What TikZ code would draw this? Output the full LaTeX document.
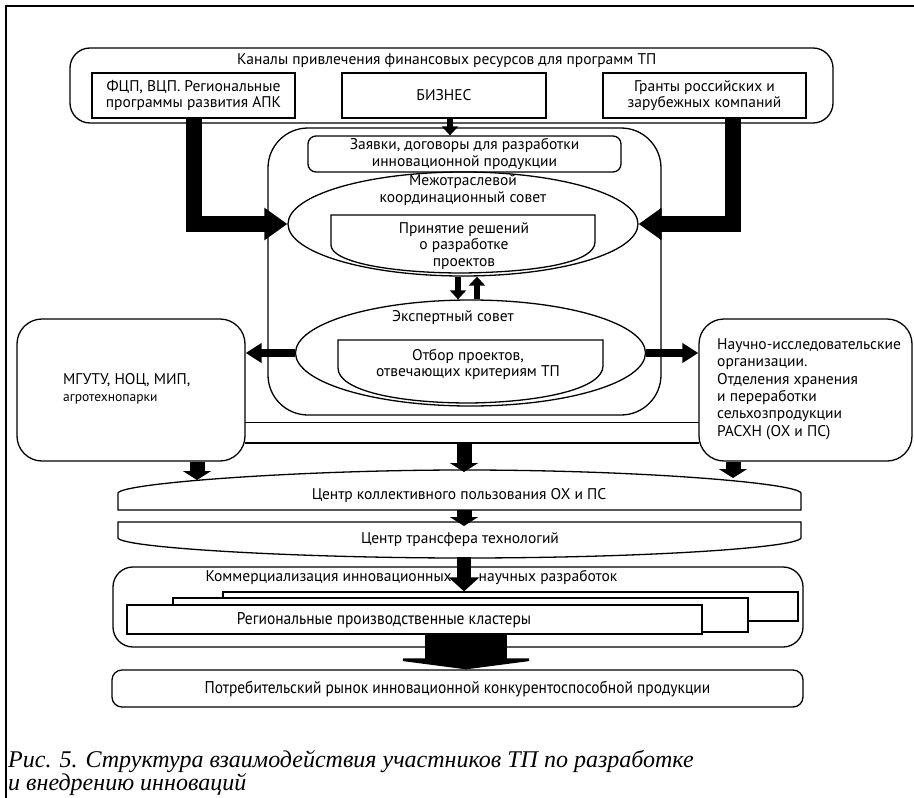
\documentclass[tikz,border=0pt]{standalone}
\usepackage{fontspec}
\setmainfont{PT Sans}
\newfontfamily\narrowfont[FakeStretch=0.91]{PT Sans}
\newfontfamily\capfont{Liberation Serif}
\usetikzlibrary{shapes.geometric,arrows.meta}
\tikzset{
  blk/.style={draw=black,line width=1.3pt,fill=white,inner sep=0pt},
  rblk/.style={blk,rounded corners=#1},
  oval/.style={draw=black,line width=1.3pt,ellipse,inner sep=0pt},
  txt/.style={font=\fontsize{15.5}{16.5}\selectfont,align=center,inner sep=0pt},
  fatbend/.style={line width=16pt,-{Triangle[length=23pt,width=31pt]}},
  thinarr/.style={line width=6pt,-{Triangle[length=9pt,width=16pt]}},
  sidearr/.style={line width=8pt,-{Triangle[length=16pt,width=19pt]}},
  stubarr/.style={line width=15pt,-{Triangle[length=9pt,width=28pt]}},
  hugearr/.style={line width=82pt,-{Triangle[length=11pt,width=168pt]}},
  captxt/.style={anchor=base west,inner sep=0pt,font=\capfont\itshape\fontsize{24}{22}\selectfont},
}

\begin{document}
\begin{tikzpicture}[x=1pt,y=-1pt]
    \useasboundingbox (0,0) rectangle (914,798);
    % frame
    \draw[line width=1.5pt] (914,6) -- (6,6) -- (6,798);
    % funding sources
    \node[rblk=20pt, minimum width=763pt, minimum height=75pt] (kanaly) at (451.5,85.5) {};
    \node[txt] (kanalyt) at (446.7,61) {Каналы привлечения финансовых ресурсов для программ ТП};
    \node[blk, txt, minimum width=203pt, minimum height=45pt] (fcp) at (193.5,95.5) {ФЦП, ВЦП. Региональные\\программы развития АПК};
    \node[blk, txt, minimum width=204pt, minimum height=45pt] (biz) at (444,95.5) {БИЗНЕС};
    \node[blk, txt, minimum width=203pt, minimum height=45pt] (grant) at (704.5,95.5) {Гранты российских и\\зарубежных компаний};
    % councils
    \node[rblk=40pt, minimum width=393pt, minimum height=287pt] (sovet) at (464.5,271.5) {};
    \node[rblk=8pt, txt, minimum width=313pt, minimum height=36pt] (zayav) at (464.5,154) {Заявки, договоры для разработки\\инновационной продукции};
    \node[oval, minimum width=350pt, minimum height=104pt] (mezh) at (463,224) {};
    \node[txt] (mezht) at (463,190) {Межотраслевой\\координационный совет};
    \draw[line width=1.3pt] (331,245) -- (331,215) -- (595,215) -- (595,242)
        .. controls (595,262) and (540,272) .. (463,273)
        .. controls (390,273) and (331,262) .. (331,245);
    \node[txt] (prin) at (464,246) {Принятие решений\\о разработке\\проектов};
    \node[oval, minimum width=350pt, minimum height=106pt] (eksp) at (470.5,353) {};
    \node[txt] (ekspt) at (453,318) {Экспертный совет};
    \draw[line width=1.3pt] (338,368) -- (338,340) -- (603,340) -- (603,366)
        .. controls (603,388) and (545,402) .. (470,403)
        .. controls (395,403) and (338,390) .. (338,368);
    \node[txt] (otbor) at (468,364.5) {Отбор проектов,\\отвечающих критериям ТП};
    % participants
    \node[rblk=25pt, minimum width=228pt, minimum height=142pt] (mgutu) at (131,390) {};
    \node[txt, align=left, anchor=west] (mgututext) at (63,389) {МГУТУ, НОЦ, МИП,\\{\fontsize{13.5}{16}\selectfont агротехнопарки}};
    \node[rblk=25pt, minimum width=213pt, minimum height=142pt] (nauch) at (805.5,390) {};
    \node[txt, align=left, anchor=west, font=\fontsize{15.5}{17.4}\selectfont] (naucht) at (717,389)
        {Научно-исследовательские\\организации.\\Отделения хранения\\и переработки\\сельхозпродукции\\РАСХН (ОХ и ПС)};
    \node[minimum width=454pt, minimum height=20pt, inner sep=0pt] (band) at (472,433) {};
    \draw[line width=1.1pt] (band.north west) -- (band.north east);
    \draw[line width=2.2pt] (band.south west) -- (band.south east);
    % centres
    \draw[blk] (118,510) -- (118,493) .. controls (122,483) and (300,470) .. (464,470)
        .. controls (640,470) and (797,483) .. (801,493) -- (801,510) -- cycle;
    \node[txt] (ckp) at (459,496) {Центр коллективного пользования ОХ и ПС};
    \draw[blk] (118,522) -- (801,522) -- (801,538) .. controls (797,548) and (640,558) .. (464,558)
        .. controls (300,558) and (122,548) .. (118,538) -- cycle;
    \node[txt] (ctt) at (460,540) {Центр трансфера технологий};
    \coordinate (ckpl) at (197,480);
    \coordinate (ckpm) at (464,472);
    \coordinate (ckpr) at (733,478);
    \coordinate (ckpbot) at (464,510);
    \coordinate (ctttop) at (464,526);
    \coordinate (cttbot) at (464,557);
    % commercialisation
    \node[rblk=20pt, minimum width=690pt, minimum height=80pt] (komm) at (458,607) {};
    \node[txt] (kommt) at (411.5,577) {Коммерциализация инновационных\hspace{27pt}научных разработок};
    \node[blk, minimum width=575pt, minimum height=29pt] (reg3) at (510.5,606.5) {};
    \node[blk, minimum width=575pt, minimum height=34pt] (reg2) at (460.5,615) {};
    \node[blk, minimum width=575pt, minimum height=29pt] (reg1) at (414.5,619.5) {};
    \node[txt, font=\narrowfont\fontsize{17}{18}\selectfont] (regt) at (384,620) {Региональные производственные кластеры};
    \node[rblk=10pt, minimum width=691pt, minimum height=37pt] (potr) at (457.5,688.5) {};
    \node[txt, font=\narrowfont\fontsize{17}{18}\selectfont] (potrt) at (457.5,689) {Потребительский рынок инновационной конкурентоспособной продукции};
    % arrows
    \coordinate (bizout) at ([xshift=6pt]biz.south);
    \coordinate (mdown) at ([xshift=-5pt]mezh.south);
    \coordinate (mup) at ([xshift=14pt]mezh.south);
    \coordinate (hug) at (466,633);
    \draw[fatbend] (fcp.south) |- (mezh.west);
    \draw[fatbend] ([xshift=28.5pt]grant.south) |- (mezh.east);
    \draw[thinarr] (bizout) -- (bizout |- zayav.north);
    \draw[thinarr] (mdown) -- (mdown |- eksp.north);
    \draw[thinarr] (mup |- eksp.north) -- (mup);
    \draw[sidearr] (eksp.west) -- (eksp.west -| mgutu.east);
    \draw[sidearr] (eksp.east) -- (eksp.east -| nauch.west);
    \draw[stubarr] (mgutu.south -| ckpl) -- (ckpl);
    \draw[stubarr] (band.south -| ckpm) -- (ckpm);
    \draw[stubarr] (nauch.south -| ckpr) -- (ckpr);
    \draw[stubarr] (ckpbot) -- (ctttop);
    \draw[line width=14pt,-{Triangle[length=14pt,width=30pt]}] (cttbot) -- (cttbot |- reg3.north);
    \draw[hugearr] (hug) -- (hug |- potr.north);
    % caption
    \node[captxt] (cap1) at (8,767) {Рис. 5. Структура взаимодействия участников ТП по разработке};
    \node[captxt] (cap2) at (8,790) {и внедрению инноваций};
\end{tikzpicture}
\end{document}
